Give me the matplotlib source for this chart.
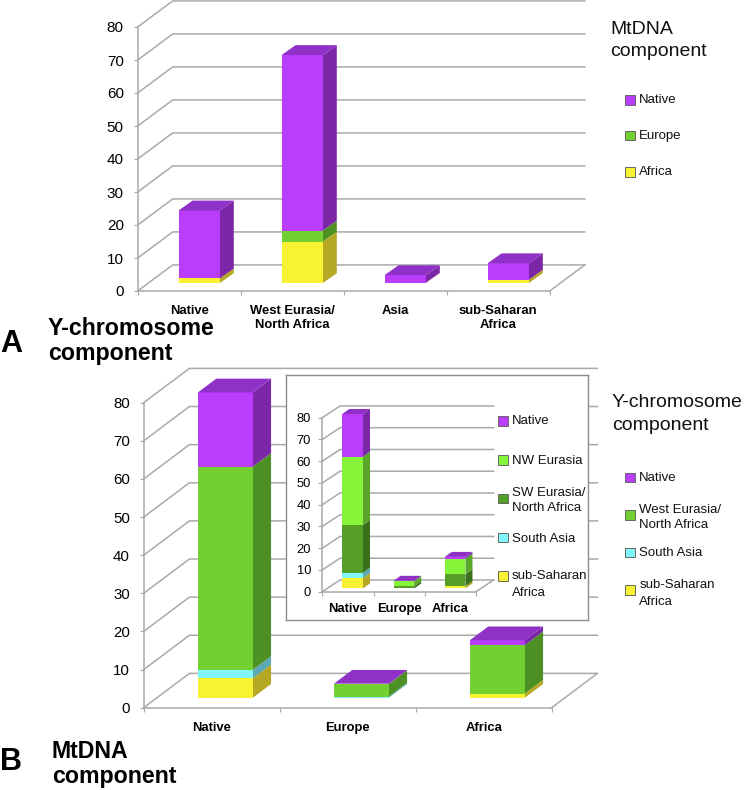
import matplotlib
matplotlib.use("Agg")
import matplotlib.pyplot as plt

plt.rcParams['font.family'] = ['Liberation Sans', 'DejaVu Sans']

W = 744
H = 790

# panel A, mtDNA make up of each Y-chromosome group
cats_a = ['Native', 'West Eurasia/\nNorth Africa', 'Asia', 'sub-Saharan\nAfrica']
a_africa = [1.4, 12.6, 0.1, 1.0]
a_europe = [0, 3.3, 0, 0]
a_native = [20.6, 53.2, 2.3, 5.0]

# panel B, Y-chromosome make up of each mtDNA group
cats_b = ['Native', 'Europe', 'Africa']
b_africa = [5.1, 0, 1.1]
b_asia = [2.2, 0.3, 0]
b_west = [53.3, 3.3, 12.7]
b_native = [19.5, 0.1, 1.3]

# inset of panel B
in_africa = [4.8, 0, 1.0]
in_asia = [2.4, 0, 0]
in_sw = [22.0, 1.1, 5.5]
in_nw = [31.4, 2.3, 7.2]
in_native = [19.6, 0.1, 0.8]

ticks = [0, 10, 20, 30, 40, 50, 60, 70, 80]

# (front, side, top)
PURPLE = ('#b93dfb', '#7b27a8', '#8f30c6')
GREEN = ('#72d030', '#4d9124', '#4d9124')
YELLOW = ('#f8f232', '#b5a824', '#b5a824')
CYAN = ('#80f7fb', '#5aa9b3', '#5aa9b3')
LIGHT = ('#86f53a', '#5aa62a', '#5aa62a')
DARK = ('#559f28', '#3a6f1c', '#3a6f1c')
GRID = '#a9a9a9'


def make_axes(x0, y_top, w, h, zorder=1):
    ax = fig.add_axes([x0 / W, 1 - (y_top + h) / H, w / W, h / H])
    ax.set_zorder(zorder)
    return ax


def draw_panel(ax, cats, stacks, colors, wall, bar, shift, width, size, labsize=9.4, pad=10):
    n = len(cats)
    ax.set_xlim(0, n)
    ax.set_ylim(0, 80)
    ax.patch.set_alpha(0)
    for s in ['top', 'right']:
        ax.spines[s].set_visible(False)
    for s in ['left', 'bottom']:
        ax.spines[s].set_color(GRID)
        ax.spines[s].set_linewidth(1.1)

    # back wall and floor
    wx, wy = wall
    for v in ticks:
        ax.plot([0, wx, n + wx], [v, v + wy, v + wy], color=GRID, lw=1.1, clip_on=False, zorder=1)
    ax.plot([n, n + wx], [0, wy], color=GRID, lw=1.1, clip_on=False, zorder=1)

    ax.set_yticks(ticks)
    ax.set_xticks(range(n + 1))
    ax.set_xticklabels([])
    ax.set_xticks([i + 0.5 for i in range(n)], minor=True)
    ax.set_xticklabels(cats, minor=True, fontsize=labsize, fontweight='bold', linespacing=1.25)
    ax.tick_params(axis='y', labelsize=size, color=GRID, length=3, pad=pad - 3)
    ax.tick_params(axis='x', which='major', color=GRID, length=3)
    ax.tick_params(axis='x', which='minor', length=0, pad=pad)

    # boxes, bottom segment first
    bx, by = bar
    sx, sy = shift
    for i in range(n):
        left = i + 0.5 - width / 2 + sx
        right = left + width
        y = sy
        top_col = None
        for vals, col in zip(stacks, colors):
            v = vals[i]
            if v <= 0:
                continue
            ax.fill([right, right + bx, right + bx, right], [y, y + by, y + v + by, y + v],
                    color=col[1], lw=0, clip_on=False, zorder=3)
            ax.fill([left, right, right, left], [y, y, y + v, y + v],
                    color=col[0], lw=0, clip_on=False, zorder=3)
            y += v
            top_col = col
        ax.fill([left, right, right + bx, left + bx], [y, y, y + by, y + by],
                color=top_col[2], lw=0, clip_on=False, zorder=4)


def legend(items, x_box, x_text, size=9.5):
    for yc, col, rows in items:
        over.add_patch(plt.Rectangle((x_box, yc - 4.7), 9.4, 9.4, facecolor=col[0], edgecolor='#666666', lw=0.7))
        for yt, txt in rows:
            over.text(x_text, yt, txt, fontsize=size, va='center', ha='left', color='#111111')


fig = plt.figure(figsize=(W / 100, H / 100), dpi=100)

ax_a = make_axes(137.7, 27, 412, 264)
draw_panel(ax_a, cats_a, [a_africa, a_europe, a_native], [YELLOW, GREEN, PURPLE],
           (0.34, 7.9), (0.136, 3.0), (0.097, 2.4), 0.4, 11)

ax_b = make_axes(143.7, 402.7, 408, 305)
draw_panel(ax_b, cats_b, [b_africa, b_asia, b_west, b_native], [YELLOW, CYAN, GREEN, PURPLE],
           (0.336, 9.0), (0.135, 3.6), (0.1, 2.6), 0.403, 10.8)

# white box behind the inset
box = make_axes(285.7, 375, 302.3, 245, zorder=2)
box.set_xticks([])
box.set_yticks([])
for s in box.spines.values():
    s.set_color('#8c8c8c')
    s.set_linewidth(1.0)

ax_in = make_axes(322.3, 417.7, 153.7, 174, zorder=3)
draw_panel(ax_in, cats_b, [in_africa, in_asia, in_sw, in_nw, in_native], [YELLOW, CYAN, DARK, LIGHT, PURPLE],
           (0.346, 5.4), (0.137, 2.3), (0.092, 1.5), 0.404, 9.3, pad=8)

# legends and headings in picture pixels
over = make_axes(0, 0, W, H, zorder=4)
over.set_xlim(0, W)
over.set_ylim(H, 0)
over.axis('off')

over.text(610, 34, 'MtDNA', fontsize=14, va='baseline', color='#111111')
over.text(610, 56.5, 'component', fontsize=14, va='baseline', color='#111111')
legend([(100, PURPLE, [(100, 'Native')]),
        (135.7, GREEN, [(135.7, 'Europe')]),
        (172, YELLOW, [(172, 'Africa')])], 625.3, 639.3)

over.text(611.7, 406.7, 'Y-chromosome', fontsize=14, va='baseline', color='#111111')
over.text(611.7, 430, 'component', fontsize=14, va='baseline', color='#111111')
legend([(477.7, PURPLE, [(478, 'Native')]),
        (515, GREEN, [(510, 'West Eurasia/'), (525.3, 'North Africa')]),
        (552.7, CYAN, [(553.3, 'South Asia')]),
        (590, YELLOW, [(585, 'sub-Saharan'), (601.7, 'Africa')])], 625.3, 639.3)

legend([(421, PURPLE, [(421, 'Native')]),
        (460, LIGHT, [(460.7, 'NW Eurasia')]),
        (498.3, DARK, [(492.7, 'SW Eurasia/'), (507.7, 'North Africa')]),
        (537.3, CYAN, [(539, 'South Asia')]),
        (576, YELLOW, [(576, 'sub-Saharan'), (592.7, 'Africa')])], 498.3, 512)

over.text(0, 352, 'A', fontsize=22, fontweight='bold', va='baseline')
over.text(48, 335, 'Y-chromosome', fontsize=16.7, fontweight='bold', va='baseline')
over.text(48, 360, 'component', fontsize=16.7, fontweight='bold', va='baseline')
over.text(0, 770, 'B', fontsize=22, fontweight='bold', va='baseline')
over.text(51.7, 758, 'MtDNA', fontsize=16.7, fontweight='bold', va='baseline')
over.text(51.7, 783, 'component', fontsize=16.7, fontweight='bold', va='baseline')

fig.savefig('out.png', dpi=100)
